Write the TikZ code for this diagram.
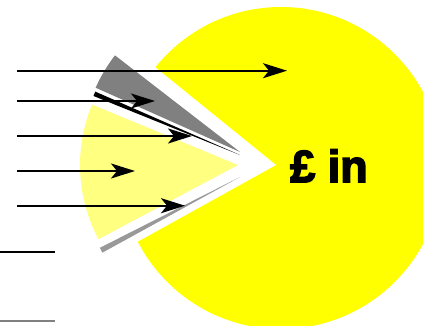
\documentclass[tikz,border=0pt]{standalone}
\usepackage{fontspec}
\newfontfamily\heavyfont[FakeBold=3.5]{Liberation Sans Bold}
\usepackage{xcolor}
\usepackage{tikz}
\usetikzlibrary{calc, arrows.meta}

\definecolor{pieyellow}{RGB}{255,255,0}
\definecolor{paleyellow}{RGB}{255,255,128}
\definecolor{darkslice}{RGB}{128,128,128}
\definecolor{lightslice}{RGB}{153,153,153}

\begin{document}
\begin{tikzpicture}[x=1pt, y=1pt, >={Stealth[length=24pt, width=15pt, inset=6pt]},
    flow/.style={->, line width=2pt}]
    % Khung hình
    \useasboundingbox (0,0) rectangle (423,325);
    \clip (0,0) rectangle (423,325);
    
    % Phần lớn (màu vàng) và miệng cắt
    \coordinate (C) at (281,157);
    \coordinate (M) at (276,160);
    \fill[pieyellow] (C) circle[radius=161];
    \fill[white] (M) -- ($(M)+(141:230)$) -- ($(M)+(209:230)$) -- cycle;
    
    % Đỉnh các phần tách ra
    \coordinate (G) at (240,173);
    \coordinate (B) at (240,170);
    \coordinate (P) at (238,160);
    \coordinate (L) at (240,148);
    
    % Các phần tách ra
    \fill[darkslice] (G) -- ++(142.3:158) arc[start angle=142.3, end angle=156, radius=158] -- cycle;
    \fill[black] (B) -- ++(156.35:158) arc[start angle=156.35, end angle=158.06, radius=158] -- cycle;
    \fill[paleyellow] (P) -- ++(157.5:158) arc[start angle=157.5, end angle=208, radius=158] -- cycle;
    \fill[lightslice] (L) -- ++(206.8:157) arc[start angle=206.8, end angle=208.8, radius=157] -- cycle;
    
    % Điểm đầu và điểm cuối các mũi tên
    \coordinate (s1) at (17,254.3);
    \coordinate (e1) at (287,254.3);
    \coordinate (s2) at (17,224);
    \coordinate (e2) at (155,224);
    \coordinate (s3) at (17,189);
    \coordinate (e3) at (192,189);
    \coordinate (s4) at (17,154);
    \coordinate (e4) at (135,154);
    \coordinate (s5) at (17,119.3);
    \coordinate (e5) at (185,119.3);
    
    % Vẽ các mũi tên
    \draw[flow] (s1) -- (e1);
    \draw[flow] (s2) -- (e2);
    \draw[flow] (s3) -- (e3);
    \draw[flow] (s4) -- (e4);
    \draw[flow] (s5) -- (e5);
    
    % Hai đoạn thẳng bên dưới
    \coordinate (k1) at (0,73.5);
    \coordinate (k2) at (55,73.5);
    \coordinate (g1) at (0,4.3);
    \coordinate (g2) at (55,4.3);
    \draw[line width=2pt] (k1) -- (k2);
    \draw[darkslice, line width=2pt] (g1) -- (g2);
    
    % Nhãn
    \node[font=\heavyfont\fontsize{45}{45}\selectfont, anchor=base, inner sep=0pt] (label) at (329,143) {£ in};
    
\end{tikzpicture}
\end{document}
